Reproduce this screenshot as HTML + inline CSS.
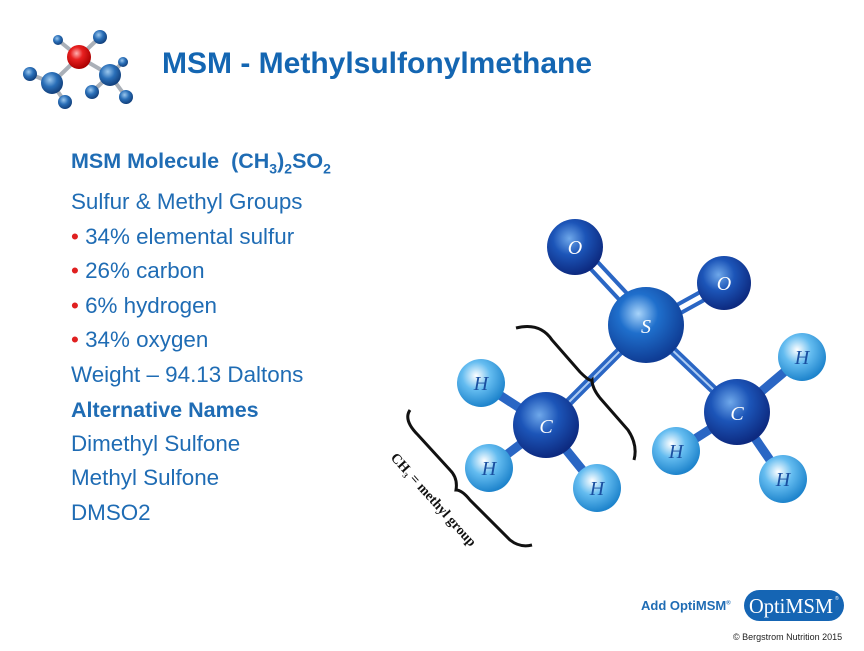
<!DOCTYPE html>
<html><head><style>
body{margin:0;width:864px;height:651px;background:#fff;overflow:hidden;position:relative;font-family:"Liberation Sans",sans-serif}
.t{position:absolute;left:71px;color:#1f6cb4;font-size:22.4px;line-height:24px;white-space:nowrap}
.b{font-weight:bold}
.r{color:#e02020}
</style></head><body>
<svg width="864" height="651" style="position:absolute;left:0;top:0">
<defs>
<radialGradient id="dk" cx="40%" cy="35%" r="65%"><stop offset="0" stop-color="#6fa8ea"/><stop offset="0.45" stop-color="#1c55b8"/><stop offset="1" stop-color="#0d2a80"/></radialGradient>
<radialGradient id="md" cx="40%" cy="35%" r="65%"><stop offset="0" stop-color="#a8d4fa"/><stop offset="0.4" stop-color="#1f6fcc"/><stop offset="1" stop-color="#0f3c94"/></radialGradient>
<radialGradient id="lt" cx="40%" cy="35%" r="65%"><stop offset="0" stop-color="#ffffff"/><stop offset="0.45" stop-color="#64bcf0"/><stop offset="1" stop-color="#1e84cc"/></radialGradient>
<radialGradient id="rd" cx="40%" cy="35%" r="65%"><stop offset="0" stop-color="#ffb0b0"/><stop offset="0.4" stop-color="#e82020"/><stop offset="1" stop-color="#a00"/></radialGradient>
<radialGradient id="sb" cx="40%" cy="35%" r="65%"><stop offset="0" stop-color="#9cc8ee"/><stop offset="0.5" stop-color="#2a6fb8"/><stop offset="1" stop-color="#12407c"/></radialGradient>
</defs>
<g stroke="#aab0b8" stroke-width="4">
<line x1="79" y1="57" x2="52" y2="83"/><line x1="79" y1="57" x2="110" y2="75"/><line x1="79" y1="57" x2="100" y2="37"/><line x1="79" y1="57" x2="58" y2="40"/>
<line x1="52" y1="83" x2="30" y2="74"/><line x1="52" y1="83" x2="65" y2="102"/><line x1="110" y1="75" x2="92" y2="92"/><line x1="110" y1="75" x2="126" y2="97"/><line x1="110" y1="75" x2="123" y2="62"/>
</g>
<circle cx="30" cy="74" r="7" fill="url(#sb)"/><circle cx="65" cy="102" r="7" fill="url(#sb)"/><circle cx="92" cy="92" r="7" fill="url(#sb)"/><circle cx="126" cy="97" r="7" fill="url(#sb)"/><circle cx="100" cy="37" r="7" fill="url(#sb)"/><circle cx="58" cy="40" r="5" fill="url(#sb)"/><circle cx="123" cy="62" r="5" fill="url(#sb)"/>
<circle cx="52" cy="83" r="11" fill="url(#sb)"/><circle cx="110" cy="75" r="11" fill="url(#sb)"/><circle cx="79" cy="57" r="12" fill="url(#rd)"/>
<g stroke="#2a66c4" stroke-width="9" stroke-linecap="round">
<line x1="646" y1="325" x2="546" y2="425"/><line x1="646" y1="325" x2="737" y2="412"/>
<line x1="546" y1="425" x2="481" y2="383"/><line x1="546" y1="425" x2="489" y2="468"/><line x1="546" y1="425" x2="597" y2="488"/>
<line x1="737" y1="412" x2="802" y2="357"/><line x1="737" y1="412" x2="676" y2="451"/><line x1="737" y1="412" x2="783" y2="479"/>
</g>
<g stroke="#2a66c4" stroke-width="4">
<line x1="573" y1="250" x2="641" y2="323"/><line x1="581" y1="244" x2="649" y2="317"/>
<line x1="646" y1="322" x2="722" y2="280"/><line x1="650" y1="330" x2="726" y2="288"/>
</g>
<g stroke="#cfe6ff" stroke-width="2" opacity="0.8">
<line x1="646" y1="325" x2="546" y2="425"/><line x1="646" y1="325" x2="737" y2="412"/>
</g>
<circle cx="575" cy="247" r="28" fill="url(#dk)"/><circle cx="724" cy="283" r="27" fill="url(#dk)"/>
<circle cx="646" cy="325" r="38" fill="url(#md)"/>
<circle cx="546" cy="425" r="33" fill="url(#dk)"/><circle cx="737" cy="412" r="33" fill="url(#dk)"/>
<circle cx="481" cy="383" r="24" fill="url(#lt)"/><circle cx="489" cy="468" r="24" fill="url(#lt)"/><circle cx="597" cy="488" r="24" fill="url(#lt)"/>
<circle cx="802" cy="357" r="24" fill="url(#lt)"/><circle cx="676" cy="451" r="24" fill="url(#lt)"/><circle cx="783" cy="479" r="24" fill="url(#lt)"/>
<g font-family="Liberation Serif,serif" font-style="italic" fill="#fff" font-size="20" text-anchor="middle">
<text x="575" y="254">O</text><text x="724" y="290">O</text><text x="646" y="333">S</text><text x="546" y="433">C</text><text x="737" y="420">C</text>
</g>
<g font-family="Liberation Serif,serif" font-style="italic" fill="#1a4fa0" font-size="20" text-anchor="middle">
<text x="481" y="390">H</text><text x="489" y="475">H</text><text x="597" y="495">H</text><text x="802" y="364">H</text><text x="676" y="458">H</text><text x="783" y="486">H</text>
</g>
<path d="M516 328 Q540 322 552 340 L580 372 Q590 382 592 380 Q592 388 600 398 L628 430 Q638 445 634 460" fill="none" stroke="#111" stroke-width="3"/>
<path d="M410 410 Q403 420 418 435 L450 470 Q458 478 456 490 Q462 490 470 500 L510 540 Q520 548 532 545" fill="none" stroke="#111" stroke-width="3"/>
<text x="0" y="0" transform="translate(390,458) rotate(48)" font-family="Liberation Serif,serif" font-weight="bold" font-size="14" fill="#111">CH<tspan font-size="8" dy="3">3</tspan><tspan dy="-3"> = methyl group</tspan></text>
<rect x="744" y="590" width="100" height="31" rx="15.5" fill="#1565b4"/>
<text x="791" y="613" text-anchor="middle" font-family="Liberation Serif,serif" font-size="21" fill="#fff" textLength="84" lengthAdjust="spacingAndGlyphs">OptiMSM</text>
<text x="835" y="600" font-size="5" fill="#fff">®</text>
</svg>
<div style="position:absolute;left:162px;top:47px;font-size:30px;font-weight:bold;color:#1466b2">MSM - Methylsulfonylmethane</div>
<div class="t b" style="top:149px;font-size:21.5px">MSM Molecule&nbsp; (CH<sub style="font-size:14px">3</sub>)<sub style="font-size:14px">2</sub>SO<sub style="font-size:14px">2</sub></div>
<div class="t" style="top:190px">Sulfur &amp; Methyl Groups</div>
<div class="t" style="top:225px"><span class="r">•</span> 34% elemental sulfur</div>
<div class="t" style="top:259px"><span class="r">•</span> 26% carbon</div>
<div class="t" style="top:294px"><span class="r">•</span> 6% hydrogen</div>
<div class="t" style="top:328px"><span class="r">•</span> 34% oxygen</div>
<div class="t" style="top:363px">Weight – 94.13 Daltons</div>
<div class="t b" style="top:398px;font-size:21.5px">Alternative Names</div>
<div class="t" style="top:432px">Dimethyl Sulfone</div>
<div class="t" style="top:466px">Methyl Sulfone</div>
<div class="t" style="top:501px">DMSO2</div>
<div style="position:absolute;left:641px;top:598px;font-size:13px;font-weight:bold;color:#1f6cb4">Add OptiMSM<sup style="font-size:6px">®</sup></div>
<div style="position:absolute;left:733px;top:632px;font-size:9px;color:#222">© Bergstrom Nutrition 2015</div>
</body></html>
